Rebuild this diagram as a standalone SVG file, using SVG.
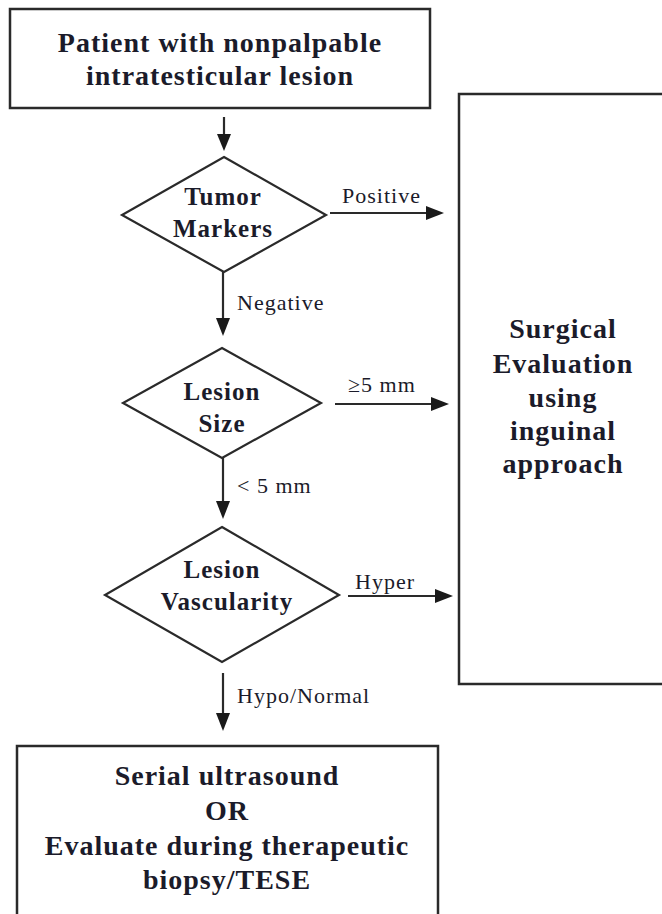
<svg xmlns="http://www.w3.org/2000/svg" width="662" height="914" viewBox="0 0 662 914">
<defs>
<style>
.box{fill:#fff;stroke:#2a2a2a;stroke-width:2.5}
.dia{fill:#fff;stroke:#2a2a2a;stroke-width:2.2}
.ln{stroke:#2a2a2a;stroke-width:2.2;fill:none}
.head{fill:#1a1a1a}
.t{font-family:"Liberation Serif","Times New Roman",serif;font-weight:bold;font-size:28px;letter-spacing:1px;fill:#1b1b2a;text-anchor:middle}
.d{font-family:"Liberation Serif","Times New Roman",serif;font-weight:bold;font-size:25px;letter-spacing:1px;fill:#1b1b2a;text-anchor:middle}
.l{font-family:"Liberation Serif","Times New Roman",serif;font-size:22px;letter-spacing:1px;fill:#1b1b2a}
</style>
</defs>
<rect width="662" height="914" fill="#fff"/>

<g id="connectors">
<line class="ln" x1="224" y1="117" x2="224" y2="136"/>
<polygon class="head" points="217,134 231,134 224,151"/>
<line class="ln" x1="330" y1="213" x2="428" y2="213"/>
<polygon class="head" points="426,206 426,220 444,213"/>
<text class="l" x="342" y="203">Positive</text>
<line class="ln" x1="223" y1="272" x2="223" y2="320"/>
<polygon class="head" points="216,318 230,318 223,336"/>
<text class="l" x="237" y="310">Negative</text>
<line class="ln" x1="335" y1="404" x2="433" y2="404"/>
<polygon class="head" points="431,397 431,411 449,404"/>
<text class="l" x="348" y="392">≥5 mm</text>
<line class="ln" x1="223" y1="458" x2="223" y2="503"/>
<polygon class="head" points="216,501 230,501 223,519"/>
<text class="l" x="237" y="493">&lt; 5 mm</text>
<line class="ln" x1="348" y1="596" x2="437" y2="596"/>
<polygon class="head" points="435,589 435,603 453,596"/>
<text class="l" x="355" y="589">Hyper</text>
<line class="ln" x1="223" y1="673" x2="223" y2="715"/>
<polygon class="head" points="216,713 230,713 223,731"/>
<text class="l" x="237" y="703">Hypo/Normal</text>
</g>

<g id="start">
<rect class="box" x="10" y="9" width="420" height="99"/>
<text class="t" x="220" y="52">Patient with nonpalpable</text>
<text class="t" x="220" y="85">intratesticular lesion</text>
</g>

<g id="tumor-markers">
<polygon class="dia" points="224,157 326,215 224,272 122,215"/>
<text class="d" x="223" y="205">Tumor</text>
<text class="d" x="223" y="237">Markers</text>
</g>

<g id="lesion-size">
<polygon class="dia" points="222,348 321,403 222,458 123,403"/>
<text class="d" x="222" y="400">Lesion</text>
<text class="d" x="222" y="432">Size</text>
</g>

<g id="lesion-vascularity">
<polygon class="dia" points="222,527 339,595 222,662 105,595"/>
<text class="d" x="222" y="578">Lesion</text>
<text class="d" x="227" y="610">Vascularity</text>
</g>

<g id="surgical">
<rect class="box" x="459" y="94" width="230" height="590"/>
<text class="t" x="563" y="338">Surgical</text>
<text class="t" x="563" y="373">Evaluation</text>
<text class="t" x="563" y="407">using</text>
<text class="t" x="563" y="440">inguinal</text>
<text class="t" x="563" y="473">approach</text>
</g>

<g id="serial">
<rect class="box" x="17" y="746" width="421" height="190"/>
<text class="t" x="227" y="785">Serial ultrasound</text>
<text class="t" x="227" y="820">OR</text>
<text class="t" x="227" y="855">Evaluate during therapeutic</text>
<text class="t" x="227" y="889">biopsy/TESE</text>
</g>
</svg>
